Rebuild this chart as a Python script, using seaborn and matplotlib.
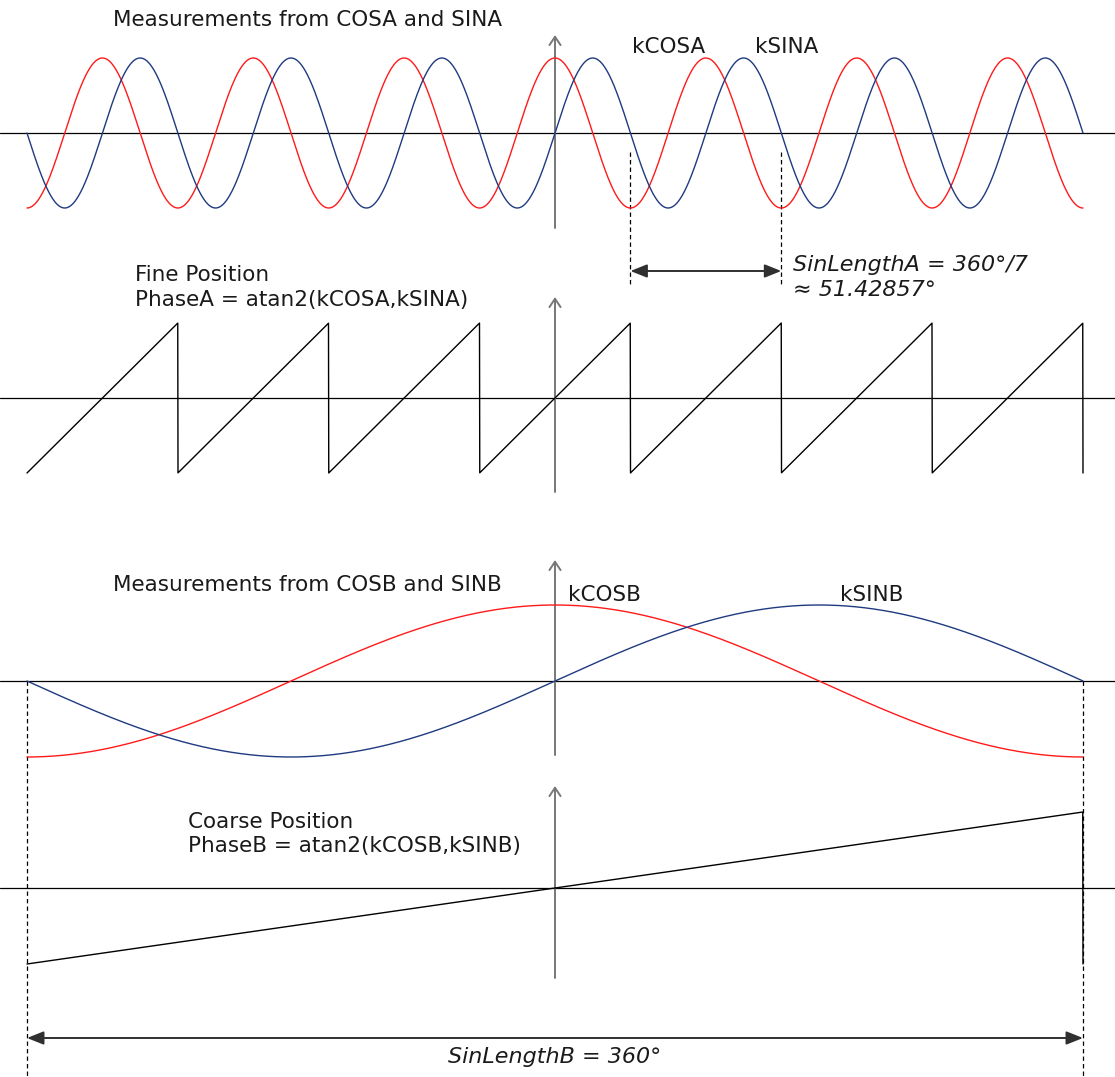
import numpy as np
import pandas as pd
import matplotlib.pyplot as plt
import seaborn as sns

sns.set_style("white")
plt.rcParams['font.family'] = ['DejaVu Sans']

# coarse angle over one revolution (degrees); fine track has 7 periods per revolution
coarse_deg = np.linspace(-180, 180, 4001)
fine_periods = 7
sin_length_a = 360 / fine_periods          # 51.42857 deg
sin_length_b = 360

fine_deg = fine_periods * coarse_deg
kcosa = np.cos(np.radians(fine_deg))
ksina = np.sin(np.radians(fine_deg))
phase_a = (fine_deg + 180) % 360 - 180      # atan2 wraps into [-180, 180)
kcosb = np.cos(np.radians(coarse_deg))
ksinb = np.sin(np.radians(coarse_deg))
phase_b = (coarse_deg + 180) % 360 - 180

RED = "#ff1a1a"
BLUE = "#1f3a80"
GREY = "#777777"

# page layout in pixels: x centre / half width, panel centre rows and amplitudes
X0, HALF = 555, 528
S = HALF / 180.0
W, H = 1115, 1077
panels = {"A": (133, 75), "PA": (398, 75), "B": (681, 76), "PB": (888, 76)}
vaxis = {"A": (228, 35), "PA": (492, 297), "B": (755, 560), "PB": (978, 786)}


def xd(px):
    return (px - X0) / S


def yrow(key, v):
    c, a = panels[key]
    return c - a * np.asarray(v)


fig = plt.figure(figsize=(W / 100, H / 100), dpi=100)
ax = fig.add_axes([0, 0, 1, 1])
ax.set_xlim(xd(0), xd(W))
ax.set_ylim(H, 0)
ax.axis("off")

# axes of each panel
for key in panels:
    c, _ = panels[key]
    ax.plot([xd(0), xd(W)], [c, c], color="black", lw=0.9, zorder=1)
    ax.annotate("", xy=(xd(W + 7), c), xytext=(xd(W - 20), c),
                arrowprops=dict(arrowstyle="->,head_length=0.6,head_width=0.35",
                                color="black", lw=0.9, shrinkA=0, shrinkB=0))
    y0, y1 = vaxis[key]
    ax.annotate("", xy=(0, y1), xytext=(0, y0),
                arrowprops=dict(arrowstyle="->,head_length=0.6,head_width=0.4",
                                color=GREY, lw=1.4, shrinkA=0, shrinkB=0))

df = pd.DataFrame({"angle": coarse_deg,
                   "kCOSA": yrow("A", kcosa), "kSINA": yrow("A", ksina),
                   "PhaseA": yrow("PA", phase_a / 180),
                   "kCOSB": yrow("B", kcosb), "kSINB": yrow("B", ksinb),
                   "PhaseB": yrow("PB", phase_b / 180)})

for col, color in [("kCOSA", RED), ("kSINA", BLUE), ("PhaseA", "black"),
                   ("kCOSB", RED), ("kSINB", BLUE), ("PhaseB", "black")]:
    sns.lineplot(data=df, x="angle", y=col, ax=ax, color=color, lw=1.0,
                 sort=False, estimator=None, zorder=3)

# dashed markers and length arrows
dash = dict(color="black", lw=0.9, ls=(0, (3.5, 2.5)), zorder=2)
for x in [sin_length_a / 2, sin_length_a * 1.5]:
    ax.plot([x, x], [152, 286], **dash)
for x in [-sin_length_b / 2, sin_length_b / 2]:
    ax.plot([x, x], [681, H], **dash)

dbl = dict(arrowstyle="<|-|>,head_length=1.0,head_width=0.4",
           color="#303030", lw=1.4, shrinkA=0, shrinkB=0)
ax.annotate("", xy=(sin_length_a * 1.5, 271), xytext=(sin_length_a / 2, 271), arrowprops=dbl)
ax.annotate("", xy=(sin_length_b / 2, 1038), xytext=(-sin_length_b / 2, 1038), arrowprops=dbl)

fs = 15.5
fs_it = 16
labels = [
    (113, 20, "Measurements from COSA and SINA", "normal"),
    (632, 47, "kCOSA", "normal"),
    (755, 47, "kSINA", "normal"),
    (135, 275, "Fine Position", "normal"),
    (135, 300, "PhaseA = atan2(kCOSA,kSINA)", "normal"),
    (793, 265, "SinLengthA = 360°/7", "italic"),
    (793, 290, "≈ 51.42857°", "italic"),
    (113, 585, "Measurements from COSB and SINB", "normal"),
    (568, 595, "kCOSB", "normal"),
    (840, 595, "kSINB", "normal"),
    (188, 822, "Coarse Position", "normal"),
    (188, 846, "PhaseB = atan2(kCOSB,kSINB)", "normal"),
]
for px, py, txt, style in labels:
    ax.text(xd(px), py, txt, fontsize=fs_it if style == "italic" else fs, style=style,
            ha="left", va="center", color="#1a1a1a")
ax.text(0, 1057, "SinLengthB = 360°", fontsize=fs_it, style="italic",
        ha="center", va="center", color="#1a1a1a")

fig.savefig("out.png", dpi=100)
